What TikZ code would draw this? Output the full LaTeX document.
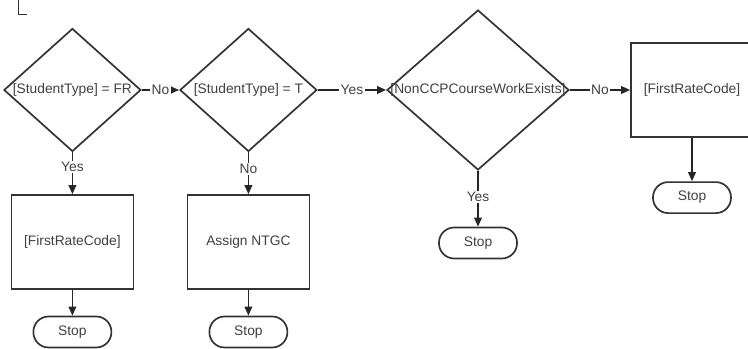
\documentclass[tikz,border=0pt]{standalone}
\usepackage{fontspec}
\setmainfont{Liberation Sans}
\usetikzlibrary{shapes.geometric,arrows.meta}

\begin{document}
\begin{tikzpicture}[
    every node/.style={font=\fontsize{9.8}{11}\selectfont, text=black!75},
    decision/.style={draw=black!80, line width=1.2pt, diamond, inner sep=0pt,
      minimum width=3.425cm, minimum height=3.075cm},
    process/.style={draw=black!80, line width=1.2pt, rectangle,
      minimum width=3.05cm, minimum height=2.35cm},
    stopbox/.style={draw=black!80, line width=1.2pt, rectangle, rounded corners=0.38cm,
      minimum width=1.95cm, minimum height=0.775cm},
    flow/.style={draw=black!85, line width=1.2pt, -{Triangle[length=6.5pt,width=5.5pt]}},
    answer/.style={fill=white, inner sep=1pt}
  ]
  \useasboundingbox (0, 0) rectangle (18.7, -8.725);
  \clip (0, 0) rectangle (18.7, -8.725);

  \draw[black!80, line width=1.2pt] (0.46, 0) -- (0.46, -0.36) -- (0.68, -0.36);

  \node[decision, label=center:{[StudentType] = FR}] (isfr) at (1.81, -2.25) {};
  \node[decision, label=center:{[StudentType] = T}] (ist) at (6.21, -2.25) {};
  \node[decision, minimum width=4.55cm, minimum height=4cm,
    label=center:{[NonCCPCourseWorkExists]}] (noncp) at (11.95, -2.25) {};
  \node[process] (rate) at (17.3, -2.25) {[FirstRateCode]};
  \node[stopbox] (stopd) at (17.3, -4.94) {Stop};
  \node[stopbox] (stopc) at (11.95, -6.075) {Stop};

  \node[process] (ratefr) at (1.81, -6.05) {[FirstRateCode]};
  \node[process] (ntgc) at (6.21, -6.05) {Assign NTGC};
  \node[stopbox] (stopa) at (1.81, -8.3) {Stop};
  \node[stopbox] (stopb) at (6.21, -8.3) {Stop};

  \draw[flow] (isfr) -- node[answer] {No} (ist);
  \draw[flow] (ist) -- node[answer] {Yes} (noncp);
  \draw[flow] (noncp) -- node[answer] {No} (rate);
  \draw[flow] (rate) -- (stopd);
  \draw[flow] (noncp) -- node[answer, pos=0.47] {Yes} (stopc);
  \draw[flow] (isfr) -- node[answer, pos=0.35] {Yes} (ratefr);
  \draw[flow] (ist) -- node[answer, pos=0.4] {No} (ntgc);
  \draw[flow] (ratefr) -- (stopa);
  \draw[flow] (ntgc) -- (stopb);
\end{tikzpicture}
\end{document}
